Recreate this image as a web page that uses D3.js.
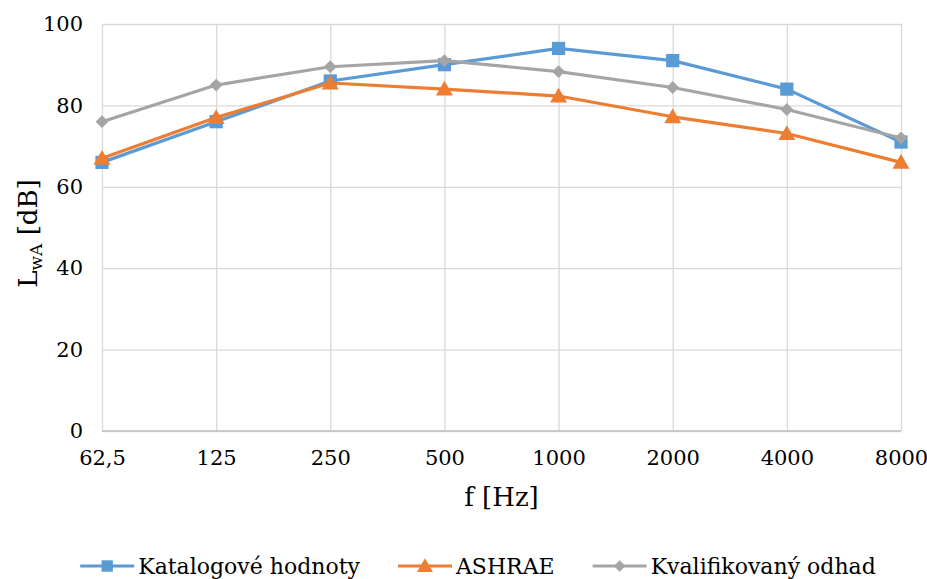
<!DOCTYPE html>
<html>
<head>
<meta charset="utf-8">
<script src="https://cdn.jsdelivr.net/npm/d3@7"></script>
<style>
  html, body { margin: 0; padding: 0; background: #fff; }
  svg, svg text { font-family: 'DejaVu Serif', 'Liberation Serif', 'Times New Roman', serif !important; }
</style>
</head>
<body>
<svg id="chart" width="927" height="579"></svg>
<script>
// Octave-band centre frequencies
const frequencies = ["62,5", "125", "250", "500", "1000", "2000", "4000", "8000"];

// Sound power level L_wA [dB] per source of data
const katalogove = [66, 76, 86, 90, 94, 91, 84, 71];
const ashrae = [67, 77, 85.5, 84, 82.3, 77.2, 73.1, 66];
const kvalifikovany = [76, 85, 89.5, 91, 88.3, 84.4, 79, 72];

const seriesNames = ["Katalogové hodnoty", "ASHRAE", "Kvalifikovaný odhad"];
const seriesColors = ["#5B9BD5", "#ED7D31", "#A5A5A5"];
const seriesMarkers = ["square", "triangle", "diamond"];
const yTicks = [0, 20, 40, 60, 80, 100];

const series = [katalogove, ashrae, kvalifikovany].map((values, i) => ({
  name: seriesNames[i], color: seriesColors[i], marker: seriesMarkers[i], values
}));

const svg = d3.select("#chart");
const margin = { left: 102, right: 26, top: 24, bottom: 148 };
const W = 927, H = 579;
const plotW = W - margin.left - margin.right;
const plotH = H - margin.top - margin.bottom;

const x = d3.scalePoint().domain(frequencies).range([0, plotW]);
const y = d3.scaleLinear().domain([0, 100]).range([plotH, 0]);

const g = svg.append("g").attr("transform", `translate(${margin.left},${margin.top})`);

// Horizontal gridlines
g.append("g")
  .call(d3.axisLeft(y).tickValues(yTicks).tickSize(-plotW).tickFormat(""))
  .call(s => s.select(".domain").remove())
  .call(s => s.selectAll("line").attr("stroke", "#d9d9d9").attr("stroke-width", 1.3));

// Vertical gridlines at each category
g.append("g")
  .attr("transform", `translate(0,${plotH})`)
  .call(d3.axisBottom(x).tickSize(-plotH).tickFormat(""))
  .call(s => s.select(".domain").remove())
  .call(s => s.selectAll("line").attr("stroke", "#d9d9d9").attr("stroke-width", 1.3));

// Baseline
g.append("line")
  .attr("x1", 0).attr("x2", plotW).attr("y1", y(0)).attr("y2", y(0))
  .attr("stroke", "#bfbfbf").attr("stroke-width", 1.3);

// Y tick labels
g.append("g")
  .call(d3.axisLeft(y).tickValues(yTicks).tickSize(0).tickPadding(19))
  .call(s => s.select(".domain").remove())
  .call(s => s.attr("font-family", null))
  .call(s => s.selectAll("text").attr("font-size", 21).attr("fill", "#000"));

// X tick labels
g.append("g")
  .attr("transform", `translate(0,${plotH})`)
  .call(d3.axisBottom(x).tickSize(0).tickPadding(19))
  .call(s => s.select(".domain").remove())
  .call(s => s.attr("font-family", null))
  .call(s => s.selectAll("text").attr("font-size", 21).attr("fill", "#000"));

// Axis titles
svg.append("text")
  .attr("x", margin.left + plotW / 2).attr("y", 506)
  .attr("text-anchor", "middle").attr("font-size", 26).attr("fill", "#000")
  .text("f [Hz]");

const yTitle = svg.append("text")
  .attr("transform", `translate(37,${margin.top + plotH / 2 + 6}) rotate(-90)`)
  .attr("text-anchor", "middle").attr("font-size", 26).attr("fill", "#000");
yTitle.append("tspan").text("L");
yTitle.append("tspan").attr("font-size", 17).attr("dy", 5).text("wA");
yTitle.append("tspan").attr("dy", -5).text(" [dB]");

// Marker shapes
const symbolOf = {
  square: d3.symbol().type(d3.symbolSquare).size(175),
  triangle: d3.symbol().type(d3.symbolTriangle).size(125),
  diamond: d3.symbol().type(d3.symbolDiamond2).size(105)
};

const line = d3.line().x((d, i) => x(frequencies[i])).y(d => y(d));

series.forEach(s => {
  const sg = g.append("g");
  sg.append("path")
    .datum(s.values)
    .attr("d", line)
    .attr("fill", "none")
    .attr("stroke", s.color)
    .attr("stroke-width", 3.2)
    .attr("stroke-linejoin", "round")
    .attr("stroke-linecap", "round");
  sg.selectAll("path.marker")
    .data(s.values)
    .join("path")
    .attr("class", "marker")
    .attr("d", symbolOf[s.marker])
    .attr("transform", (d, i) => `translate(${x(frequencies[i])},${y(d) + (s.marker === "triangle" ? 1.5 : 0)})`)
    .attr("fill", s.color);
});

// Legend: entries laid out in a row, centred under the chart
const legendSymbol = {
  square: d3.symbol().type(d3.symbolSquare).size(130),
  triangle: d3.symbol().type(d3.symbolTriangle).size(110),
  diamond: d3.symbol().type(d3.symbolDiamond2).size(85)
};
const legend = svg.append("g").attr("transform", "translate(0,566)");
const sampleLen = 54, textGap = 4, itemGap = 38;
let cursor = 0;
series.forEach(s => {
  const item = legend.append("g").attr("transform", `translate(${cursor},0)`);
  item.append("line")
    .attr("x1", 0).attr("x2", sampleLen).attr("y1", 0).attr("y2", 0)
    .attr("stroke", s.color).attr("stroke-width", 3.2);
  item.append("path")
    .attr("d", legendSymbol[s.marker])
    .attr("transform", `translate(${sampleLen / 2},${s.marker === "triangle" ? 1.5 : 0})`)
    .attr("fill", s.color);
  const t = item.append("text")
    .attr("x", sampleLen + textGap).attr("y", 8)
    .attr("font-size", 22).attr("fill", "#000")
    .text(s.name);
  cursor += sampleLen + textGap + t.node().getComputedTextLength() + itemGap;
});
const legendWidth = cursor - itemGap;
legend.attr("transform", `translate(${478 - legendWidth / 2},566)`);
</script>
</body>
</html>
